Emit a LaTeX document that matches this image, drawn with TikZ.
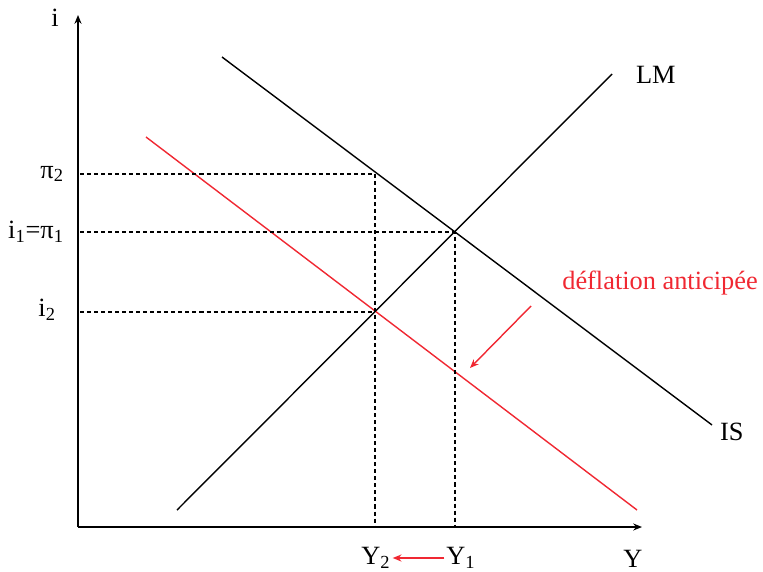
\documentclass[tikz,border=0pt]{standalone}
\usepackage{fontspec}
\setmainfont{Liberation Serif}
\usepackage{tikz}
\usetikzlibrary{arrows.meta,calc,positioning}
\definecolor{deflred}{RGB}{240,40,50}

\begin{document}
\begin{tikzpicture}[x=0.02cm,y=-0.02cm,>={Stealth[length=5pt,width=4pt]},
    every node/.style={font=\fontsize{15}{18}\selectfont,inner sep=1pt}]
  \tikzset{curve/.style={line width=0.8pt},
           guide/.style={line width=0.9pt,dash pattern=on 2.3pt off 1.7pt},
           redline/.style={deflred,line width=0.8pt}}
  \useasboundingbox (0,0) rectangle (763,571);
  % axes
  \coordinate (o) at (78,527);
  \coordinate (itop) at (78,15);
  \coordinate (yend) at (642,527);
  \draw[line width=0.8pt,->] (o) -- (itop);
  \draw[line width=0.8pt,->] (o) -- (yend);
  \node (ilab) at (55,18) {i};
  \node (ylab) at (633,559) {Y};
  % curves
  \coordinate (lm0) at (177,510); \coordinate (lm1) at (612,74);
  \coordinate (is0) at (222,57);  \coordinate (is1) at (712,425);
  \coordinate (isn0) at (146,137); \coordinate (isn1) at (637,510);
  \draw[curve] (lm0) -- (lm1);
  \draw[curve] (is0) -- (is1);
  \draw[redline] (isn0) -- (isn1);
  \node[anchor=west] (lmlab) at (634,75) {LM};
  \node[anchor=west] (islab) at (718,432) {IS};
  % equilibria
  \coordinate (e1) at (455,232);
  \coordinate (e2) at (375,312);
  \coordinate (p2) at (375,174);
  \node[anchor=east] (pi2) at (66,174) {π\textsubscript{2}};
  \node[anchor=east] (i1) at (66,232) {i\textsubscript{1}=π\textsubscript{1}};
  \node[anchor=east] (i2) at (58,310) {i\textsubscript{2}};
  \draw[guide] (80,174) -- (p2) -- (p2 |- o);
  \draw[guide] (80,232) -- (e1) -- (e1 |- o);
  \draw[guide] (80,312) -- (e2);
  \node (y2) at (376,558) {Y\textsubscript{2}};
  \node (y1) at (461,558) {Y\textsubscript{1}};
  \draw[redline,->] (y1) -- (y2);
  % shift of IS
  \node[deflred] (defl) at (660,283) {déflation anticipée};
  \coordinate (sh0) at (531,306); \coordinate (sh1) at (470,368);
  \draw[redline,->] (sh0) -- (sh1);
\end{tikzpicture}
\end{document}
